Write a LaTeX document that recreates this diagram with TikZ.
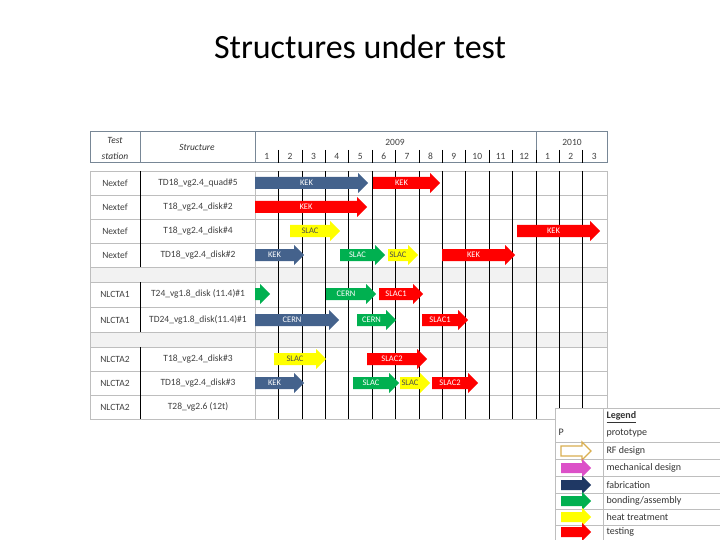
\documentclass[tikz,border=0pt]{standalone}
\usepackage{fontspec}
\setmainfont{Carlito}
\usepackage{tikz}
\usetikzlibrary{positioning}
\definecolor{mybleu}{RGB}{68,98,140}
\definecolor{mynavy}{RGB}{31,56,100}
\definecolor{myvert}{RGB}{0,176,80}
\definecolor{myjaune}{RGB}{255,255,0}
\definecolor{myrouge}{RGB}{255,0,0}
\definecolor{myor}{RGB}{218,175,80}
\definecolor{mymag}{RGB}{220,80,200}
\definecolor{mygri}{RGB}{190,190,190}
\definecolor{mycadre}{RGB}{120,135,150}
\tikzset{
  cell/.style={font=\fontsize{9.5}{11}\selectfont, text=black!75},
  lbl/.style={font=\fontsize{8.5}{9}\selectfont, text=white},
  hdr/.style={font=\fontsize{9.5}{11}\selectfont\itshape, text=black!80},
  leg/.style={font=\fontsize{10}{11}\selectfont, text=black!80, anchor=west}
}
% arrow: colour, row centre, start, end, label
\newcommand{\garrow}[5]{%
  \fill[#1] (#3,#2-6) -- (#4-10,#2-6) -- (#4-10,#2-10) -- (#4,#2) -- (#4-10,#2+10) -- (#4-10,#2+6) -- (#3,#2+6) -- cycle;
  \node[lbl] at ({(#3+#4-10)/2},#2) {#5};}
\newcommand{\larrow}[2]{%
  \fill[#1] (-19,#2-5) -- (2,#2-5) -- (2,#2-9) -- (11,#2) -- (2,#2+9) -- (2,#2+5) -- (-19,#2+5) -- cycle;}
\newcommand{\dk}[1]{\textcolor{black!70}{#1}}
\begin{document}
\begin{tikzpicture}[x=1pt,y=-1pt]
  \useasboundingbox (0,0) rectangle (720,540);
  \node (title) at (360,47) {\fontsize{34}{38}\selectfont Structures under test};
  % header
  \draw[mycadre, line width=1pt] (90,132) rectangle (607,163);
  \draw[mycadre] (140,132) -- (140,163);
  \draw[mycadre] (255,132) -- (255,163);
  \draw[mycadre] (536,132) -- (536,163);
  \foreach \m in {1,...,14} \draw[black] (255+23.4*\m,150) -- (255+23.4*\m,163);
  \node[hdr] (test) at (115,140) {Test};
  \node[hdr] (station) at (115,156) {station};
  \node[hdr] (struct) at (197,147) {Structure};
  \node[cell] (y2009) at (395,142) {2009};
  \node[cell] (y2010) at (572,142) {2010};
  \foreach \m [count=\i from 0] in {1,...,12,1,2,3}
    \node[cell] (mon\i) at (266.7+23.4*\i,156) {\m};
  % blank rows
  \fill[black!5] (90,267) rectangle (607,282);
  \fill[black!5] (90,332) rectangle (607,347);
  % grid
  \foreach \y in {171,195,219,243,267,282,307,332,347,371,395,419}
    \draw[mygri] (90,\y) -- (607,\y);
  \draw[mygri] (90,171) -- (90,419);
  \draw[mygri] (607,171) -- (607,419);
  \draw[mygri] (255,171) -- (255,419);
  \draw[black] (140,171) -- (140,267) (140,282) -- (140,332) (140,347) -- (140,419);
  \foreach \m in {1,...,14} \draw[black] (255+23.4*\m,171) -- (255+23.4*\m,419);
  % rows
  \foreach \y/\st/\s in {183/Nextef/TD18\_vg2.4\_quad\#5, 207/Nextef/T18\_vg2.4\_disk\#2,
      231/Nextef/T18\_vg2.4\_disk\#4, 255/Nextef/TD18\_vg2.4\_disk\#2,
      294/NLCTA1/T24\_vg1.8\_disk (11.4)\#1, 320/NLCTA1/TD24\_vg1.8\_disk(11.4)\#1,
      359/NLCTA2/T18\_vg2.4\_disk\#3, 383/NLCTA2/TD18\_vg2.4\_disk\#3, 407/NLCTA2/T28\_vg2.6 (12t)}
    {\node[cell] at (115,\y) {\st}; \node[cell] at (198,\y) {\s};}
  % schedule
  \garrow{mybleu}{183}{255}{368}{KEK}
  \garrow{myrouge}{183}{373}{440}{KEK}
  \garrow{myrouge}{207}{255}{367}{KEK}
  \garrow{myjaune}{231}{290}{340}{\dk{SLAC}}
  \garrow{myrouge}{231}{517}{600}{KEK}
  \garrow{mybleu}{255}{255}{304}{KEK}
  \garrow{myvert}{255}{340}{385}{SLAC}
  \garrow{myjaune}{255}{388}{418}{\dk{SLAC}}
  \garrow{myrouge}{255}{442}{515}{KEK}
  \garrow{myvert}{294}{255}{270}{}
  \garrow{myvert}{294}{326}{376}{CERN}
  \garrow{myrouge}{294}{379}{423}{SLAC1}
  \garrow{mybleu}{320}{255}{339}{CERN}
  \garrow{myvert}{320}{357}{396}{CERN}
  \garrow{myrouge}{320}{422}{468}{SLAC1}
  \garrow{myjaune}{359}{274}{326}{\dk{SLAC}}
  \garrow{myrouge}{359}{367}{427}{SLAC2}
  \garrow{mybleu}{383}{255}{304}{KEK}
  \garrow{myvert}{383}{353}{399}{SLAC}
  \garrow{myjaune}{383}{400}{430}{\dk{SLAC}}
  \garrow{myrouge}{383}{432}{478}{SLAC2}
  % legend
  \fill[white] (555,408) rectangle (720,540);
  \draw[mygri] (555,408) rectangle (720,540);
  \draw[mygri] (603,408) -- (603,540);
  \foreach \y in {442,459,476,493,509,525} \draw[mygri] (555,\y) -- (720,\y);
  \node[leg, font=\fontsize{10}{11}\selectfont\bfseries] (legend) at (603,417) {\underline{Legend}};
  \node[leg] (p) at (555,432) {P};
  \node[leg] (proto) at (603,433) {prototype};
  \node[leg] (rf) at (603,451) {RF design};
  \node[leg] (mech) at (603,468) {mechanical design};
  \node[leg] (fab) at (603,485) {fabrication};
  \node[leg] (bond) at (603,501) {bonding/assembly};
  \node[leg] (heat) at (603,517) {heat treatment};
  \node[leg] (tst) at (603,532) {testing};
  \begin{scope}[xshift=580]
    \draw[myor, line width=1.3pt] (-19,446) -- (2,446) -- (2,442) -- (11,451) -- (2,460) -- (2,456) -- (-19,456) -- cycle;
    \larrow{mymag}{468}
    \larrow{mynavy}{485}
    \larrow{myvert}{501}
    \larrow{myjaune}{517}
    \larrow{myrouge}{532}
  \end{scope}
\end{tikzpicture}
\end{document}
